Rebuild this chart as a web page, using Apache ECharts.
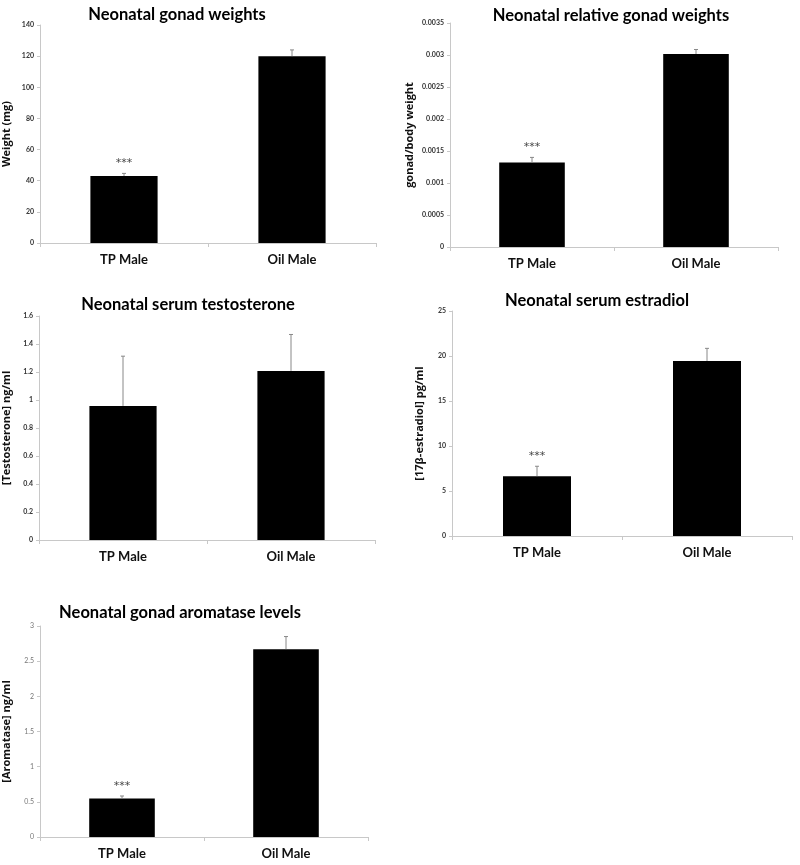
<!DOCTYPE html>
<html><head><meta charset="utf-8">
<script src="https://cdn.jsdelivr.net/npm/echarts@6/dist/echarts.min.js"></script>
<style>html,body{margin:0;padding:0;background:#fff}#c{width:800px;height:865px}</style>
</head><body><div id="c"></div>
<script>
const categories = ['TP Male', 'Oil Male'];
const significance = ['***', ''];

const gonadWeight = [43, 120];
const gonadWeightErr = [1.7, 4];
const relWeight = [0.00132, 0.003016];
const relWeightErr = [0.00008, 0.00007];
const testosterone = [0.958, 1.208];
const testosteroneErr = [0.355, 0.26];
const estradiol = [6.65, 19.45];
const estradiolErr = [1.1, 1.4];
const aromatase = [0.546, 2.67];
const aromataseErr = [0.037, 0.18];

const panels = [
  {title:'Neonatal gonad weights', yName:'Weight (mg)', vals:gonadWeight, errs:gonadWeightErr, max:140, interval:20,
   grid:{left:38, top:25, width:338, height:218}, nameGap:28, tx:177, ty:15, light:false, sig:true},
  {title:'Neonatal relative gonad weights', yName:'gonad/body weight', vals:relWeight, errs:relWeightErr, max:0.0035, interval:0.0005,
   grid:{left:450, top:23, width:328, height:224}, nameGap:35, tx:611, ty:16, light:false, sig:true},
  {title:'Neonatal serum testosterone', yName:'[Testosterone] ng/ml', vals:testosterone, errs:testosteroneErr, max:1.6, interval:0.2,
   grid:{left:35, top:316, width:340, height:224}, nameGap:27, tx:188, ty:305, light:false, sig:false},
  {title:'Neonatal serum estradiol', yName:'[17β-estradiol] pg/ml', vals:estradiol, errs:estradiolErr, max:25, interval:5,
   grid:{left:452, top:311, width:340, height:225}, nameGap:27, tx:597, ty:301, light:false, sig:true},
  {title:'Neonatal gonad aromatase levels', yName:'[Aromatase] ng/ml', vals:aromatase, errs:aromataseErr, max:3, interval:0.5,
   grid:{left:35, top:626, width:333, height:211}, nameGap:28, tx:180, ty:613, light:true, sig:true}
];

const FONT = 'Lato';
const grids = [], xAxes = [], yAxes = [], series = [], graphics = [];
panels.forEach((p, i) => {
  grids.push(Object.assign({containLabel:false}, p.grid));
  xAxes.push({
    type:'category', gridIndex:i, data:categories,
    axisLine:{lineStyle:{color:'#c8c8c8'}},
    axisTick:{show:true, length:4, lineStyle:{color:'#c8c8c8'}},
    axisLabel:{fontFamily:FONT, fontWeight:'bold', fontSize:13, color:'#111', margin:10}
  });
  yAxes.push({
    type:'value', gridIndex:i, min:0, max:p.max, interval:p.interval,
    name:p.yName, nameLocation:'middle', nameGap:p.nameGap,
    nameTextStyle:{fontFamily:'Open Sans', fontWeight:'bold', fontSize:11, color:'#111'},
    axisLine:{show:true, lineStyle:{color:'#c8c8c8'}},
    axisTick:{show:true, length:3, lineStyle:{color:'#c8c8c8'}},
    splitLine:{show:false},
    axisLabel:{fontFamily:FONT, fontWeight: p.light ? 'normal' : 'bold', fontSize:7, color: p.light ? '#777' : '#333', margin:6}
  });
  series.push({
    type:'bar', xAxisIndex:i, yAxisIndex:i, data:p.vals, barWidth:'40%',
    itemStyle:{color:'#000'}, animation:false
  });
  series.push({
    type:'custom', xAxisIndex:i, yAxisIndex:i, animation:false, z:5,
    data:p.vals.map((v, k) => [k, v, p.errs[k]]),
    encode:{x:0, y:1},
    renderItem:(params, api) => {
      const k = api.value(0), v = api.value(1), e = api.value(2);
      const s = p.sig ? significance[k] : '';
      const b = api.coord([k, v]);
      const t = api.coord([k, v + e]);
      const children = [
        {type:'line', shape:{x1:b[0], y1:b[1], x2:t[0], y2:t[1]}, style:{stroke:'#888', lineWidth:1}},
        {type:'line', shape:{x1:t[0]-2, y1:t[1], x2:t[0]+2, y2:t[1]}, style:{stroke:'#888', lineWidth:1}}
      ];
      if (s) {
        children.push({type:'text', style:{text:s, x:t[0], y:t[1]-10, align:'center', verticalAlign:'middle',
          fontFamily:'DejaVu Sans', fontSize:11, fill:'#444'}});
      }
      return {type:'group', children};
    }
  });
  graphics.push({
    type:'text', x:p.tx, y:p.ty,
    style:{text:p.title, x:0, y:0, align:'center', verticalAlign:'middle', fontFamily:FONT, fontWeight:'bold', fontSize:16.5, fill:'#000'}
  });
});

const chart = echarts.init(document.getElementById('c'));
chart.setOption({
  animation:false,
  backgroundColor:'#fff',
  grid:grids, xAxis:xAxes, yAxis:yAxes, series:series,
  graphic:graphics
});
</script></body></html>
